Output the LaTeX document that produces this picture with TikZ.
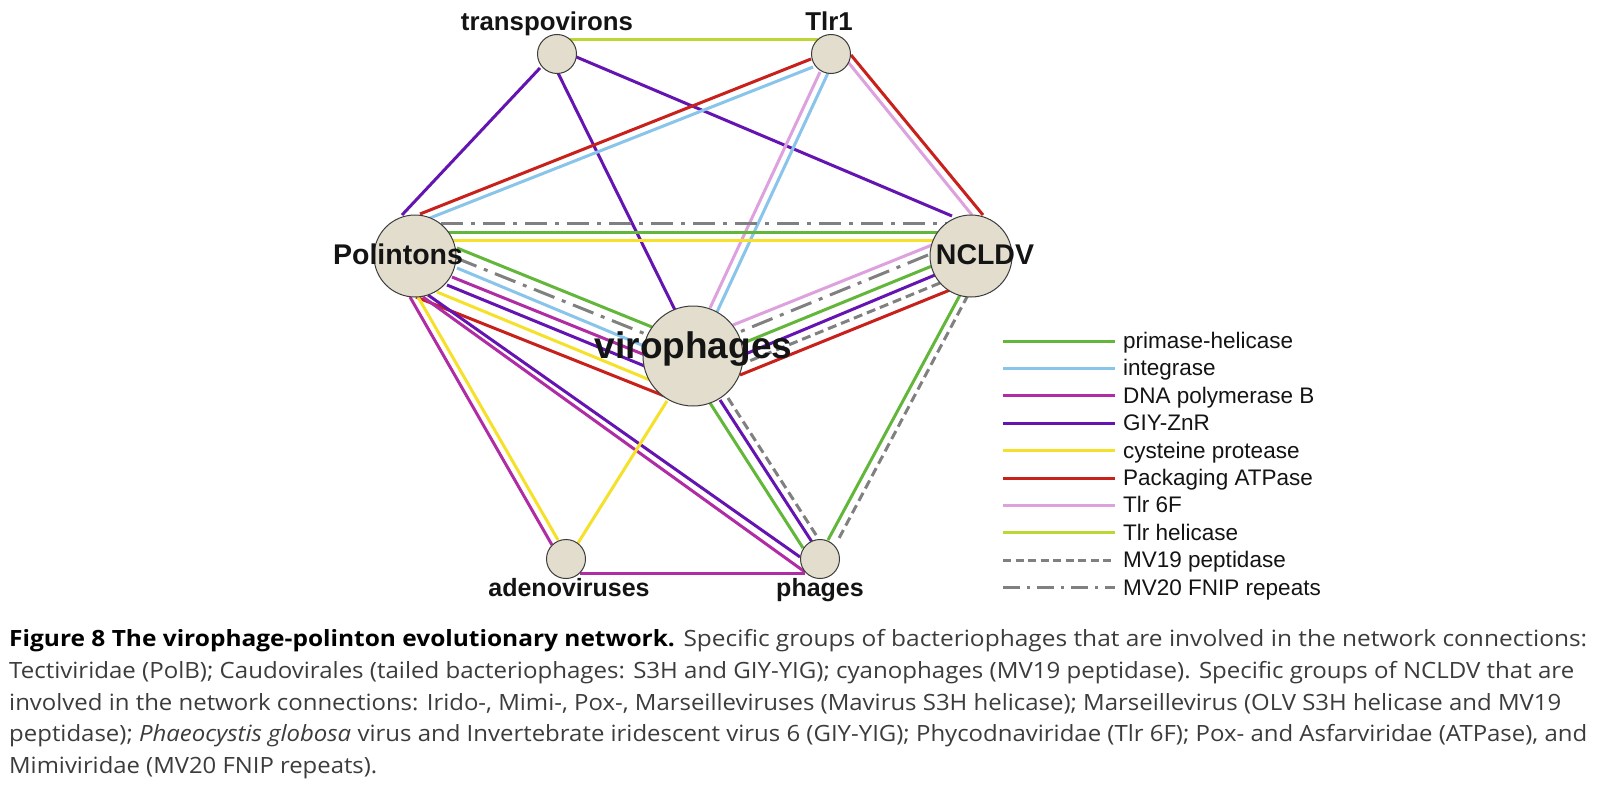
\documentclass[tikz,border=0pt]{standalone}
\usepackage{fontspec}
\usepackage{graphicx}
\setmainfont{Liberation Sans}
\newfontfamily\capfont{Open Sans}
\usetikzlibrary{calc}
\pgfdeclarelayer{bg}
\pgfdeclarelayer{edges}
\pgfsetlayers{bg,edges,main}

\definecolor{cPrim}{RGB}{98,183,58}
\definecolor{cInt}{RGB}{137,196,234}
\definecolor{cPol}{RGB}{176,44,164}
\definecolor{cGiy}{RGB}{100,20,176}
\definecolor{cCys}{RGB}{245,225,42}
\definecolor{cAtp}{RGB}{200,32,26}
\definecolor{cSixF}{RGB}{221,162,221}
\definecolor{cHel}{RGB}{190,214,50}
\definecolor{cGray}{RGB}{128,128,128}
\definecolor{cFill}{RGB}{226,221,204}
\definecolor{cBorder}{RGB}{60,60,60}
\definecolor{cText}{RGB}{60,60,60}
\definecolor{cLbl}{RGB}{20,20,20}

\newsavebox\mycapbox
\newcommand\mycapline[2]{\sbox\mycapbox{#2}\pgfmathsetmacro\mycapsc{#1/\the\wd\mycapbox}\scalebox{\mycapsc}[1]{\usebox\mycapbox}}

\tikzset{
  vnode/.style={circle, fill=cFill, draw=cBorder, line width=1pt, inner sep=0pt},
  vsmall/.style={vnode, minimum size=39pt},
  vmid/.style={vnode, minimum size=82pt},
  vbig/.style={vnode, minimum size=100pt},
  edgeline/.style={line width=3pt},
  ePrim/.style={edgeline, draw=cPrim},
  eInt/.style={edgeline, draw=cInt},
  ePol/.style={edgeline, draw=cPol},
  eGiy/.style={edgeline, draw=cGiy},
  eCys/.style={edgeline, draw=cCys},
  eAtp/.style={edgeline, draw=cAtp},
  eSixF/.style={edgeline, draw=cSixF},
  eHel/.style={edgeline, draw=cHel},
  eDash/.style={edgeline, draw=cGray, dash pattern=on 9pt off 5pt},
  eDashDot/.style={edgeline, draw=cGray, dash pattern=on 22pt off 8pt on 4pt off 8pt},
  lblS/.style={inner sep=0pt, anchor=base, text=cLbl, font=\bfseries\fontsize{25}{30}\selectfont},
  lblT/.style={inner sep=0pt, anchor=base, text=cLbl, font=\bfseries\fontsize{25.8}{30}\selectfont},
  lblM/.style={inner sep=0pt, anchor=base, text=cLbl, font=\bfseries\fontsize{28.5}{34}\selectfont},
  lblB/.style={inner sep=0pt, anchor=base, text=cLbl, font=\bfseries\fontsize{37}{44}\selectfont},
  legtxt/.style={inner sep=0pt, anchor=base west, text=cLbl, font=\fontsize{22.5}{27}\selectfont},
  captxt/.style={inner sep=0pt, anchor=base west, text=cText, font=\capfont\fontsize{22.4}{27}\selectfont},
}

\begin{document}
\begin{tikzpicture}[x=1pt,y=-1pt]
\begin{pgfonlayer}{bg}
\fill[white] (0,0) rectangle (1600,797);
\end{pgfonlayer}
\useasboundingbox (0,0) rectangle (1600,797);

% nodes
\node[vsmall] (T) at (557,54) {};
\node[vsmall] (L) at (831,54) {};
\node[vmid] (P) at (415,256) {};
\node[vmid] (N) at (971,256) {};
\node[vbig] (V) at (693,356) {};
\node[vsmall] (A) at (566,559) {};
\node[vsmall] (H) at (820,559) {};

\begin{pgfonlayer}{edges}
% transpovirons - Tlr1
\draw[eHel] ([shift={(13,-14)}]T.center) -- ([shift={(-13,-14)}]L.center);
% transpovirons
\draw[eGiy] ([shift={(-17,14)}]T.center) -- ([shift={(-13,-41)}]P.center);
\draw[eGiy] ([shift={(1,19)}]T.center) -- ([shift={(-18,-46)}]V.center);
\draw[eGiy] ([shift={(17,2)}]T.center) -- ([shift={(-19,-40)}]N.center);
% Tlr1 - Polintons
\draw[eAtp] ([shift={(-20,5)}]L.center) -- ([shift={(5,-42)}]P.center);
\draw[eInt] ([shift={(-18,13)}]L.center) -- ([shift={(15,-38)}]P.center);
% Tlr1 - virophages
\draw[eSixF] ([shift={(-11,18)}]L.center) -- ([shift={(17,-48)}]V.center);
\draw[eInt] ([shift={(-3,19)}]L.center) -- ([shift={(24,-44)}]V.center);
% Tlr1 - NCLDV
\draw[eAtp] ([shift={(20,1)}]L.center) -- ([shift={(12,-41)}]N.center);
\draw[eSixF] ([shift={(17,8)}]L.center) -- ([shift={(1,-41)}]N.center);
% Polintons - NCLDV
\draw[eDashDot] ([shift={(26,-33)}]P.center) -- ([shift={(-24,-33)}]N.center);
\draw[ePrim] ([shift={(33,-24)}]P.center) -- ([shift={(-33,-24)}]N.center);
\draw[eCys] ([shift={(38,-16)}]P.center) -- ([shift={(-38,-16)}]N.center);
% Polintons - virophages
\draw[ePrim] ([shift={(42,-8)}]P.center) -- ([shift={(-41,-29)}]V.center);
\draw[eDashDot] ([shift={(41,2)}]P.center) -- ([shift={(-45,-21)}]V.center);
\draw[eInt] ([shift={(42,12)}]P.center) -- ([shift={(-49,-10)}]V.center);
\draw[ePol] ([shift={(37,21)}]P.center) -- ([shift={(-48,-1)}]V.center);
\draw[eGiy] ([shift={(32,29)}]P.center) -- ([shift={(-46,11)}]V.center);
\draw[eCys] ([shift={(22,36)}]P.center) -- ([shift={(-43,24)}]V.center);
\draw[eAtp] ([shift={(1,41)}]P.center) -- ([shift={(-26,41)}]V.center);
% Polintons - adenoviruses
\draw[ePol] ([shift={(-5,41)}]P.center) -- ([shift={(-14,-14)}]A.center);
\draw[eCys] ([shift={(3,41)}]P.center) -- ([shift={(-8,-19)}]A.center);
% Polintons - phages
\draw[ePol] ([shift={(8,41)}]P.center) -- ([shift={(-15,13)}]H.center);
\draw[eGiy] ([shift={(13,39)}]P.center) -- ([shift={(-20,-2)}]H.center);
% adenoviruses
\draw[eCys] ([shift={(12,-16)}]A.center) -- ([shift={(-26,45)}]V.center);
\draw[ePol] ([shift={(14,14)}]A.center) -- ([shift={(-15,14)}]H.center);
% virophages - phages
\draw[ePrim] ([shift={(17,47)}]V.center) -- ([shift={(-17,-11)}]H.center);
\draw[eGiy] ([shift={(27,44)}]V.center) -- ([shift={(-8,-17)}]H.center);
\draw[eDash] ([shift={(35,42)}]V.center) -- ([shift={(-2,-21)}]H.center);
% NCLDV - phages
\draw[ePrim] ([shift={(-11,39)}]N.center) -- ([shift={(8,-19)}]H.center);
\draw[eDash] ([shift={(-3,39)}]N.center) -- ([shift={(17,-17)}]H.center);
% NCLDV - virophages
\draw[eSixF] ([shift={(-39,-11)}]N.center) -- ([shift={(40,-31)}]V.center);
\draw[eDashDot] ([shift={(-43,-1)}]N.center) -- ([shift={(44,-23)}]V.center);
\draw[ePrim] ([shift={(-39,10)}]N.center) -- ([shift={(48,-12)}]V.center);
\draw[eGiy] ([shift={(-36,19)}]N.center) -- ([shift={(50,-1)}]V.center);
\draw[eDash] ([shift={(-31,27)}]N.center) -- ([shift={(49,8)}]V.center);
\draw[eAtp] ([shift={(-21,34)}]N.center) -- ([shift={(47,19)}]V.center);
\end{pgfonlayer}

% node labels
\node[lblT] (tT) at (547,31) {transpovirons};
\node[lblT] (tL) at (829,31) {Tlr1};
\node[lblM] (tP) at (398,264) {Polintons};
\node[lblM] (tN) at (985,264) {NCLDV};
\node[lblB] (tV) at (693.5,358) {virophages};
\node[lblS] (tA) at (569,596) {adenoviruses};
\node[lblS] (tH) at (820,596) {phages};

% legend
\coordinate (k1) at (1003,341);
\coordinate (k2) at (1003,368.4);
\coordinate (k3) at (1003,395.8);
\coordinate (k4) at (1003,423.2);
\coordinate (k5) at (1003,450.6);
\coordinate (k6) at (1003,478);
\coordinate (k7) at (1003,505.4);
\coordinate (k8) at (1003,532.8);
\coordinate (k9) at (1003,560.2);
\coordinate (k10) at (1003,587.6);
\draw[ePrim] (k1) -- ++(112,0);
\draw[eInt] (k2) -- ++(112,0);
\draw[ePol] (k3) -- ++(112,0);
\draw[eGiy] (k4) -- ++(112,0);
\draw[eCys] (k5) -- ++(112,0);
\draw[eAtp] (k6) -- ++(112,0);
\draw[eSixF] (k7) -- ++(112,0);
\draw[eHel] (k8) -- ++(112,0);
\draw[eDash, dash pattern=on 8pt off 4.5pt] (k9) -- ++(112,0);
\draw[eDashDot, dash pattern=on 17pt off 7pt on 3pt off 7pt] (k10) -- ++(112,0);
\node[legtxt] (g1) at ([shift={(120,7.5)}]k1) {primase-helicase};
\node[legtxt] (g2) at ([shift={(120,7.5)}]k2) {integrase};
\node[legtxt] (g3) at ([shift={(120,7.5)}]k3) {DNA polymerase B};
\node[legtxt] (g4) at ([shift={(120,7.5)}]k4) {GIY-ZnR};
\node[legtxt] (g5) at ([shift={(120,7.5)}]k5) {cysteine protease};
\node[legtxt] (g6) at ([shift={(120,7.5)}]k6) {Packaging ATPase};
\node[legtxt] (g7) at ([shift={(120,7.5)}]k7) {Tlr 6F};
\node[legtxt] (g8) at ([shift={(120,7.5)}]k8) {Tlr helicase};
\node[legtxt] (g9) at ([shift={(120,7.5)}]k9) {MV19 peptidase};
\node[legtxt] (g10) at ([shift={(120,7.5)}]k10) {MV20 FNIP repeats};

% caption
\node[captxt] (c1) at (9,646.7) {\mycapline{1578}{{\bfseries\color{black}Figure 8 The virophage-polinton evolutionary network.} Specific groups of bacteriophages that are involved in the network connections:}};
\node[captxt] (c2) at (9,678.3) {\mycapline{1565}{Tectiviridae (PolB); Caudovirales (tailed bacteriophages: S3H and GIY-YIG); cyanophages (MV19 peptidase). Specific groups of NCLDV that are}};
\node[captxt] (c3) at (9,710) {\mycapline{1552}{involved in the network connections: Irido-, Mimi-, Pox-, Marseilleviruses (Mavirus S3H helicase); Marseillevirus (OLV S3H helicase and MV19}};
\node[captxt] (c4) at (9,741.7) {\mycapline{1578}{peptidase); \textit{Phaeocystis globosa} virus and Invertebrate iridescent virus 6 (GIY-YIG); Phycodnaviridae (Tlr 6F); Pox- and Asfarviridae (ATPase), and}};
\node[captxt] (c5) at (9,773.3) {\mycapline{368}{Mimiviridae (MV20 FNIP repeats).}};
\end{tikzpicture}
\end{document}
